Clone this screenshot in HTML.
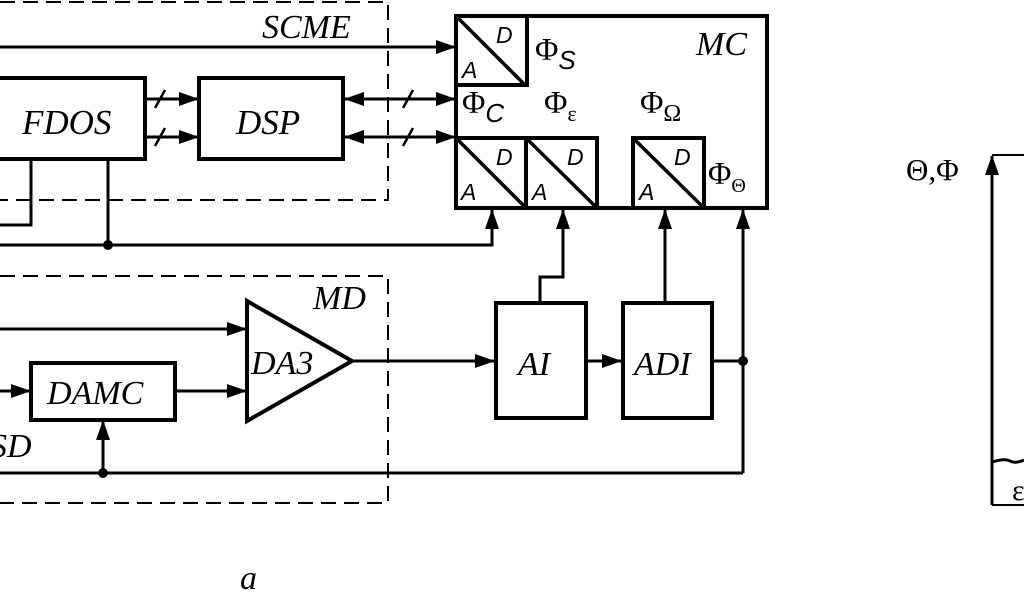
<!DOCTYPE html>
<html><head><meta charset="utf-8"><style>
html,body{margin:0;padding:0;background:#fff;}
svg{display:block;}
text{font-family:"Liberation Serif",serif;fill:#000;}
.it{font-style:italic;}
.sans{font-family:"Liberation Sans",sans-serif;font-style:italic;}
</style></head><body>
<svg width="1024" height="600" viewBox="0 0 1024 600" xmlns="http://www.w3.org/2000/svg">
<defs>
<marker id="ar" markerWidth="20" markerHeight="14" refX="19" refY="7" orient="auto-start-reverse" markerUnits="userSpaceOnUse">
<path d="M0,0 L20,7 L0,14 Z" fill="#000"/></marker>
</defs>
<g fill="none" stroke="#000">
<!-- dashed boxes -->
<path d="M0,2 H388 V200 H0" stroke-width="2" stroke-dasharray="15,8"/>
<path d="M0,276 H388 V503 H0" stroke-width="2" stroke-dasharray="15,8"/>
<path d="M0,47 H455" stroke-width="3" marker-end="url(#ar)"/>
<rect x="-5" y="78" width="150" height="81" stroke-width="4"/>
<rect x="199" y="78" width="144" height="81" stroke-width="4"/>
<path d="M146,99 H198" stroke-width="3" marker-end="url(#ar)"/>
<path d="M146,137 H198" stroke-width="3" marker-end="url(#ar)"/>
<path d="M155,108 L165,90 M155,146 L165,128" stroke-width="2.5"/>
<path d="M345,99 H455" stroke-width="3" marker-start="url(#ar)" marker-end="url(#ar)"/>
<path d="M345,137 H455" stroke-width="3" marker-start="url(#ar)" marker-end="url(#ar)"/>
<path d="M403,108 L413,90 M403,146 L413,128" stroke-width="2.5"/>
<path d="M31,160 V225 H0" stroke-width="3"/>
<path d="M108,160 V245" stroke-width="3"/>
<path d="M0,245 H492 V210" stroke-width="3" marker-end="url(#ar)"/>
<rect x="456" y="16" width="311" height="192" stroke-width="4"/>
<rect x="456" y="16" width="71" height="69" stroke-width="4"/>
<path d="M458,18 L525,85" stroke-width="3.5"/>
<rect x="456" y="138" width="70" height="70" stroke-width="4"/>
<path d="M458,140 L524,206" stroke-width="3.5"/>
<rect x="526" y="138" width="71" height="70" stroke-width="4"/>
<path d="M528,140 L595,206" stroke-width="3.5"/>
<rect x="633" y="138" width="71" height="70" stroke-width="4"/>
<path d="M635,140 L702,206" stroke-width="3.5"/>
<path d="M540,302 V277 H563 V210" stroke-width="3" marker-end="url(#ar)"/>
<path d="M665,302 V210" stroke-width="3" marker-end="url(#ar)"/>
<path d="M743,473 V210" stroke-width="3" marker-end="url(#ar)"/>
<path d="M0,329 H246" stroke-width="3" marker-end="url(#ar)"/>
<path d="M0,391 H30" stroke-width="3" marker-end="url(#ar)"/>
<rect x="31" y="363" width="144" height="57" stroke-width="4"/>
<path d="M176,391 H246" stroke-width="3" marker-end="url(#ar)"/>
<path d="M247,301 L352,361 L247,421 Z" stroke-width="4"/>
<path d="M352,361 H494" stroke-width="3" marker-end="url(#ar)"/>
<rect x="496" y="303" width="90" height="115" stroke-width="4"/>
<path d="M588,361 H621" stroke-width="3" marker-end="url(#ar)"/>
<rect x="623" y="303" width="89" height="115" stroke-width="4"/>
<path d="M713,361 H743" stroke-width="3"/>
<path d="M0,473 H743" stroke-width="3"/>
<path d="M103,473 V421" stroke-width="3" marker-end="url(#ar)"/>
<path d="M992,505 V156" stroke-width="3" marker-end="url(#ar)"/>
<path d="M992,155 H1024" stroke-width="2"/>
<path d="M992,462 Q1005,458 1010,461 T1024,460" stroke-width="3"/>
<path d="M992,505 H1024" stroke-width="2"/>
</g>
<g fill="#000">
<circle cx="108" cy="245" r="5"/>
<circle cx="743" cy="361" r="5"/>
<circle cx="103" cy="473" r="5"/>
</g>
<text x="262" y="38" font-size="34" class="it">SCME</text>
<text x="22" y="134" font-size="35" class="it">FDOS</text>
<text x="236" y="134" font-size="35" class="it">DSP</text>
<text x="696" y="55" font-size="34" class="it">MC</text>
<text x="313" y="309" font-size="34" class="it">MD</text>
<text x="251" y="374" font-size="34" class="it">DA3</text>
<text x="47" y="404" font-size="34" class="it">DAMC</text>
<text x="-10" y="457" font-size="34" class="it">SD</text>
<text x="518" y="375" font-size="34" class="it">AI</text>
<text x="634" y="375" font-size="34" class="it">ADI</text>
<text x="240" y="589" font-size="34" class="it">a</text>
<g font-size="23">
<text x="496" y="43" class="sans">D</text><text x="462" y="78" class="sans">A</text>
<text x="496" y="165" class="sans">D</text><text x="461" y="200" class="sans">A</text>
<text x="567" y="165" class="sans">D</text><text x="532" y="200" class="sans">A</text>
<text x="674" y="165" class="sans">D</text><text x="639" y="200" class="sans">A</text>
</g>
<text x="535" y="60" font-size="32">Φ<tspan font-size="26" dy="9" font-family="Liberation Sans" font-style="italic">S</tspan></text>
<text x="462" y="113" font-size="32">Φ<tspan font-size="26" dy="9" font-family="Liberation Sans" font-style="italic">C</tspan></text>
<text x="544" y="113" font-size="32">Φ<tspan font-size="22" dy="8">ε</tspan></text>
<text x="640" y="113" font-size="32">Φ<tspan font-size="24" dy="8">Ω</tspan></text>
<text x="708" y="184" font-size="32">Φ<tspan font-size="20" dy="8">Θ</tspan></text>
<text x="906" y="180" font-size="31">Θ,Φ</text>
<text x="1012" y="500" font-size="30">ε</text>
</svg>
</body></html>
